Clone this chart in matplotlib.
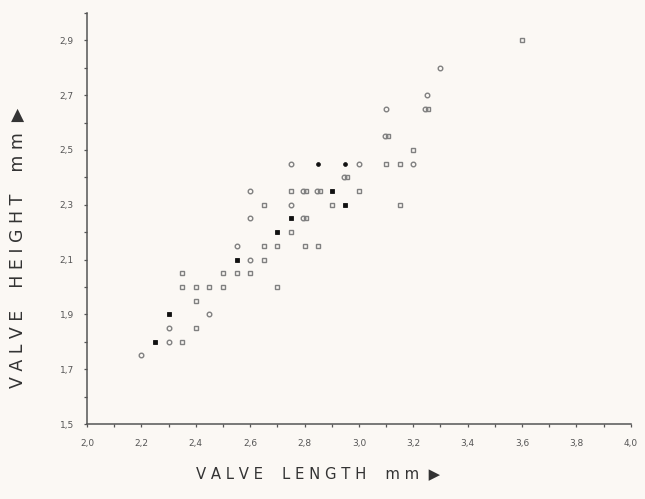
import numpy as np
import matplotlib.pyplot as plt
import matplotlib.transforms as mtransforms
from matplotlib.ticker import MultipleLocator, FuncFormatter

# open circles
circ_x = [2.2, 2.3, 2.3, 2.45, 2.55, 2.6, 2.6, 2.6, 2.75, 2.75, 3.0, 3.2, 3.1, 3.25, 3.3]
circ_y = [1.75, 1.8, 1.85, 1.9, 2.15, 2.1, 2.25, 2.35, 2.3, 2.45, 2.45, 2.45, 2.65, 2.7, 2.8]

# open squares
sq_x = [2.35, 2.4, 2.4, 2.35, 2.4, 2.45, 2.5, 2.35, 2.5, 2.55, 2.6, 2.65, 2.65, 2.7,
        2.8, 2.85, 2.7, 2.75, 2.65, 2.9, 2.75, 3.0, 3.15, 3.1, 3.15, 3.2, 3.6]
sq_y = [1.8, 1.85, 1.95, 2.0, 2.0, 2.0, 2.0, 2.05, 2.05, 2.05, 2.05, 2.1, 2.15, 2.15,
        2.15, 2.15, 2.0, 2.2, 2.3, 2.3, 2.35, 2.35, 2.3, 2.45, 2.45, 2.5, 2.9]

# filled squares
fsq_x = [2.25, 2.3, 2.55, 2.7, 2.75, 2.9, 2.95]
fsq_y = [1.8, 1.9, 2.1, 2.2, 2.25, 2.35, 2.3]

# filled circles (small dots)
fc_x = [2.85, 2.95]
fc_y = [2.45, 2.45]

# circle + square at the same point
both_x = [2.8, 2.85, 2.8, 2.95, 3.1, 3.25]
both_y = [2.35, 2.35, 2.25, 2.4, 2.55, 2.65]

bg = '#fbf8f4'
mk = '#808080'

fig = plt.figure(figsize=(6.45, 4.99), dpi=100, facecolor=bg)
ax = fig.add_axes([0.1349, 0.1503, 0.978 - 0.1349, 0.974 - 0.1503])
ax.set_facecolor(bg)

ms = 3.3
ax.plot(circ_x, circ_y, 'o', ms=ms, mfc='none', mec=mk, mew=1.0, ls='none')
ax.plot(sq_x, sq_y, 's', ms=ms, mfc='none', mec=mk, mew=1.0, ls='none')
ax.plot(fsq_x, fsq_y, 's', ms=3.2, mfc='#111111', mec='#111111', mew=0.6, ls='none')
ax.plot(fc_x, fc_y, 'o', ms=2.8, mfc='#111111', mec='#111111', mew=0.5, ls='none')

left = ax.transData + mtransforms.ScaledTranslation(-1.5 / 100, 0, fig.dpi_scale_trans)
right = ax.transData + mtransforms.ScaledTranslation(1.5 / 100, 0, fig.dpi_scale_trans)
ax.plot(both_x, both_y, 'o', ms=ms, mfc='none', mec=mk, mew=1.0, ls='none', transform=left)
ax.plot(both_x, both_y, 's', ms=ms, mfc='none', mec=mk, mew=1.0, ls='none', transform=right)

ax.set_xlim(2.0, 4.0)
ax.set_ylim(1.5, 3.0)

for s in ['top', 'right']:
    ax.spines[s].set_visible(False)
for s in ['left', 'bottom']:
    ax.spines[s].set_color('#555555')
    ax.spines[s].set_linewidth(1.1)

ax.xaxis.set_major_locator(MultipleLocator(0.2))
ax.xaxis.set_minor_locator(MultipleLocator(0.1))
ax.set_yticks([1.5, 1.7, 1.9, 2.1, 2.3, 2.5, 2.7, 2.9])
ax.yaxis.set_minor_locator(MultipleLocator(0.1))

fmt = FuncFormatter(lambda v, p: f"{v:.1f}".replace('.', ','))
ax.xaxis.set_major_formatter(fmt)
ax.yaxis.set_major_formatter(fmt)

tick_font = ['Liberation Sans Narrow', 'DejaVu Sans']
ax.tick_params(which='both', direction='out', length=2.5, width=0.9, color='#555555')
ax.tick_params(axis='x', pad=8)
ax.tick_params(axis='y', pad=7)
for lab in ax.get_xticklabels() + ax.get_yticklabels():
    lab.set_family(tick_font)
    lab.set_fontsize(6.5)
    lab.set_color('#555555')

fig.text(0.493, 0.05, 'V A L V E    L E N G T H    m m  \u25B6', ha='center', va='center',
         fontsize=10.7, color='#333333', family='DejaVu Sans')
fig.text(0.027, 0.503, 'V A L V E    H E I G H T    m m  \u25B6', ha='center', va='center',
         rotation=90, fontsize=12.5, color='#333333', family='DejaVu Sans')

fig.savefig('out.png', dpi=100, facecolor=bg)
